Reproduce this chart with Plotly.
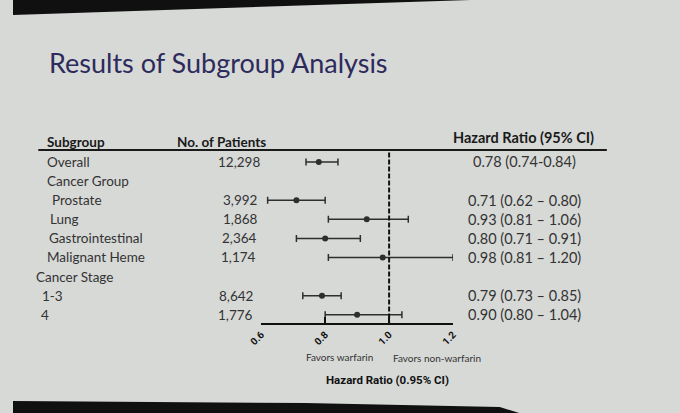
import plotly.graph_objects as go

# forest plot values
subgroups = ["Overall", "Cancer Group", "Prostate", "Lung", "Gastrointestinal",
             "Malignant Heme", "Cancer Stage", "1-3", "4"]
patients = ["12,298", "", "3,992", "1,868", "2,364", "1,174", "", "8,642", "1,776"]
hr = [0.78, None, 0.71, 0.93, 0.80, 0.98, None, 0.79, 0.90]
ci_low = [0.74, None, 0.62, 0.81, 0.71, 0.81, None, 0.73, 0.80]
ci_high = [0.84, None, 0.80, 1.06, 0.91, 1.20, None, 0.85, 1.04]
hr_labels = ["0.78 (0.74-0.84)", "", "0.71 (0.62 \u2013 0.80)", "0.93 (0.81 \u2013 1.06)",
             "0.80 (0.71 \u2013 0.91)", "0.98 (0.81 \u2013 1.20)", "",
             "0.79 (0.73 \u2013 0.85)", "0.90 (0.80 \u2013 1.04)"]
ticks = [0.6, 0.8, 1.0, 1.2]
tick_labels = ["0.6", "0.8", "1.0", "1.2"]

W, H = 680, 413
rows = list(range(len(subgroups)))

def px(x):
    return x / W

def py(y):
    return 1 - y / H

# only rows that have an estimate get a point
pts = [i for i in rows if hr[i] is not None]
xs = [hr[i] for i in pts]
err_plus = [round(ci_high[i] - hr[i], 3) for i in pts]
err_minus = [round(hr[i] - ci_low[i], 3) for i in pts]

ink = "#2e2e2e"
body = "Lato, Noto Sans, sans-serif"
narrow = "Liberation Sans Narrow, Arial Narrow, Roboto, sans-serif"

fig = go.Figure()
fig.add_trace(go.Scatter(
    x=xs, y=pts, mode="markers",
    marker=dict(color=ink, size=6),
    error_x=dict(type="data", symmetric=False, array=err_plus, arrayminus=err_minus,
                 color=ink, thickness=1.5, width=3.5),
    cliponaxis=False, showlegend=False, hoverinfo="x"))

# reference line at HR = 1
fig.add_shape(type="line", xref="x", yref="y", x0=1.0, x1=1.0, y0=-0.5, y1=8.43,
              line=dict(color="#111", width=2, dash="5px,2px"))

# header rule
fig.add_shape(type="line", xref="paper", yref="paper", x0=px(26), x1=px(610),
              y0=py(150), y1=py(150), line=dict(color="#1a1a1a", width=2))

# dark photo edges top and bottom
fig.add_shape(type="path", xref="paper", yref="paper", layer="above",
              path=f"M 0 1 L 0 {py(15)} L {px(470)} 1 Z",
              fillcolor="#101010", line=dict(width=0))
fig.add_shape(type="path", xref="paper", yref="paper", layer="above",
              path=f"M 0 {py(401)} L {px(300)} {py(403)} L {px(500)} {py(407)} "
                   f"L {px(520)} 0 L 0 0 Z",
              fillcolor="#101010", line=dict(width=0))

ann = []
ann.append(dict(text="Results of Subgroup Analysis", x=px(35), y=py(62), xref="paper", yref="paper",
                xanchor="left", yanchor="middle", showarrow=False,
                font=dict(family=body, size=27, color="#2d2b5c")))

for txt, x in [("Subgroup", 33), ("No. of Patients", 166)]:
    ann.append(dict(text=txt, x=px(x), y=py(142), xref="paper", yref="paper",
                    xanchor="left", yanchor="middle", showarrow=False,
                    font=dict(family=body, size=13.5, color="#1a1a1a", weight="bold")))
ann.append(dict(text="Hazard Ratio (95% CI)", x=px(524), y=py(138), xref="paper", yref="paper",
                xanchor="center", yanchor="middle", showarrow=False,
                font=dict(family=body, size=14.5, color="#1a1a1a", weight="bold")))

label_x = [33, 33, 38, 36, 35, 33, 22, 28, 27]
for i in rows:
    ann.append(dict(text=subgroups[i], x=px(label_x[i]), y=i, xref="paper", yref="y",
                    xanchor="left", yanchor="middle", showarrow=False,
                    font=dict(family=body, size=13.5, color="#333")))
    if patients[i]:
        ann.append(dict(text=patients[i], x=px(256 - 0.9 * i), y=i, xref="paper", yref="y",
                        xanchor="right", yanchor="middle", showarrow=False,
                        font=dict(family=body, size=13.5, color="#333")))
    if hr_labels[i]:
        ann.append(dict(text=hr_labels[i], x=px(525), y=i, xref="paper", yref="y",
                        xanchor="center", yanchor="middle", showarrow=False,
                        font=dict(family=body, size=14.5, color="#333")))

ann.append(dict(text="Favors warfarin", x=px(335), y=py(357), xref="paper", yref="paper",
                xanchor="center", yanchor="middle", showarrow=False,
                font=dict(family=body, size=10, color="#333")))
ann.append(dict(text="Favors non-warfarin", x=px(436), y=py(358), xref="paper", yref="paper",
                xanchor="center", yanchor="middle", showarrow=False,
                font=dict(family=body, size=10, color="#333")))
ann.append(dict(text="Hazard Ratio (0.95% CI)", x=px(385), y=py(380), xref="paper", yref="paper",
                xanchor="center", yanchor="middle", showarrow=False,
                font=dict(family=narrow, size=11.5, color="#111", weight="bold")))

fig.update_layout(
    width=W, height=H, margin=dict(l=0, r=0, t=0, b=0),
    paper_bgcolor="#d7d9d7", plot_bgcolor="rgba(0,0,0,0)",
    annotations=ann,
    xaxis=dict(domain=[px(255), px(452)], range=[0.6, 1.2], showgrid=False, zeroline=False,
               showline=True, linecolor="#111", linewidth=2, ticks="inside", ticklen=6,
               tickwidth=2, tickcolor="#111", tickvals=ticks, ticktext=tick_labels,
               tickangle=-45, tickfont=dict(family=narrow, size=10, color="#111", weight="bold")),
    yaxis=dict(domain=[(H - 323) / H, 1], range=[8.43, -8.48], visible=False),
)

fig.write_html("out.html", config={"displayModeBar": False},
               post_script="document.body.style.margin='0';")
